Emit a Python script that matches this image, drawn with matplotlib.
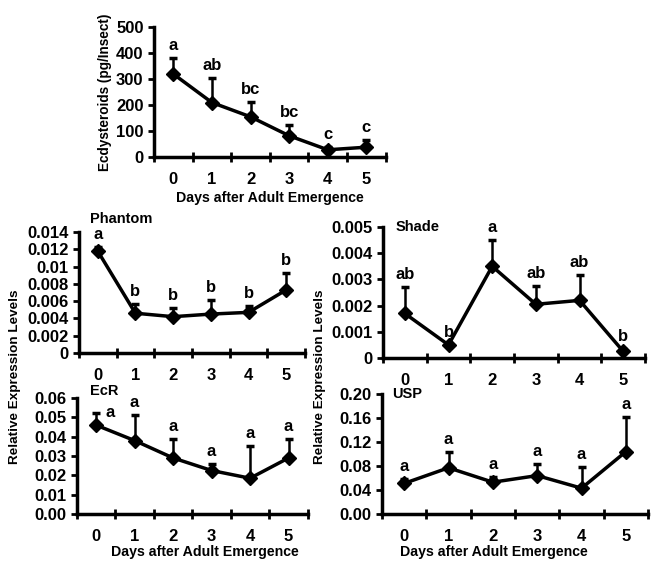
import matplotlib
matplotlib.use("Agg")
import matplotlib.pyplot as plt
from matplotlib.ticker import FormatStrFormatter, FuncFormatter

plt.rcParams["font.family"] = ["Liberation Sans", "DejaVu Sans"]
plt.rcParams["font.weight"] = "bold"

days = [0, 1, 2, 3, 4, 5]

ecdy_mean = [320, 210, 155, 82, 28, 38]
ecdy_err = [62, 95, 58, 40, 10, 28]
ecdy_letters = ["a", "ab", "bc", "bc", "c", "c"]

phantom_mean = [0.0118, 0.0046, 0.0042, 0.0045, 0.0047, 0.0073]
phantom_err = [0.0005, 0.0011, 0.0010, 0.0016, 0.0007, 0.0020]
phantom_letters = ["a", "b", "b", "b", "b", "b"]

shade_mean = [0.0017, 0.0005, 0.0035, 0.00205, 0.0022, 0.00025]
shade_err = [0.0010, 0.0, 0.0010, 0.0007, 0.00095, 0.0001]
shade_letters = ["ab", "b", "a", "ab", "ab", "b"]

ecr_mean = [0.046, 0.038, 0.029, 0.0225, 0.0185, 0.029]
ecr_err = [0.0065, 0.013, 0.010, 0.0033, 0.0168, 0.010]
ecr_letters = ["a", "a", "a", "a", "a", "a"]

usp_mean = [0.051, 0.077, 0.053, 0.064, 0.043, 0.104]
usp_err = [0.007, 0.027, 0.008, 0.020, 0.036, 0.057]
usp_letters = ["a", "a", "a", "a", "a", "a"]

XLAB = "Days after Adult Emergence"
YLAB = "Relative Expression Levels"


def general(v, pos):
    # Excel "General" style tick labels
    if abs(v) < 1e-12:
        return "0"
    return ("%.4f" % v).rstrip("0")


def draw_panel(ax, mean, err, letters, ymax, ystep, fmt, label_dx=None):
    ax.errorbar(days, mean, yerr=[[0] * len(err), err], color="black",
                marker="D", markersize=7, linewidth=2.5, elinewidth=1.8,
                capsize=3, capthick=2.5)
    ax.set_xlim(-0.5, 5.5)
    ax.set_ylim(0, ymax)
    ax.set_yticks([i * ystep for i in range(int(round(ymax / ystep)) + 1)])
    ax.yaxis.set_major_formatter(fmt)
    ax.set_xticks([d + 0.5 for d in [-1] + days])
    ax.set_xticklabels([])
    ax.set_xticks(days, minor=True)
    ax.set_xticklabels([str(d) for d in days], minor=True)
    ax.tick_params(axis="x", which="minor", length=0, pad=11, labelsize=12)
    ax.tick_params(axis="x", which="major", direction="inout", length=7, width=2)
    ax.tick_params(axis="y", direction="out", length=4, width=2, labelsize=12)
    for s in ["top", "right"]:
        ax.spines[s].set_visible(False)
    for s in ["left", "bottom"]:
        ax.spines[s].set_linewidth(2.5)
    for i, (m, e, t) in enumerate(zip(mean, err, letters)):
        dx, dy = 0, 9
        if label_dx and i in label_dx:
            dx, dy = label_dx[i]
        ax.annotate(t, (days[i], m + e), xytext=(dx, dy), textcoords="offset points",
                    ha="center", va="center", fontsize=12, fontweight="bold")


def xlabel(ax, x, y):
    ax.text(x, y, XLAB, transform=ax.transAxes, ha="center", va="center",
            fontsize=10.2, fontweight="bold")


def title(ax, x, y, s):
    ax.text(x, y, s, transform=ax.transAxes, ha="left", va="center",
            fontsize=10.5, fontweight="bold")


fig = plt.figure(figsize=(6.62, 5.67), dpi=100)

ax0 = fig.add_axes([0.2326, 0.723, 0.350, 0.229])
draw_panel(ax0, ecdy_mean, ecdy_err, ecdy_letters, 500, 100, FormatStrFormatter("%d"))
ax0.set_ylabel("Ecdysteroids (pg/Insect)", fontsize=9.8, fontweight="bold", labelpad=3)
xlabel(ax0, 0.5, -0.315)

ax1 = fig.add_axes([0.119, 0.3774, 0.342, 0.2136])
draw_panel(ax1, phantom_mean, phantom_err, phantom_letters, 0.014, 0.002, FuncFormatter(general))
title(ax1, 0.05, 1.107, "Phantom")

ax2 = fig.add_axes([0.5785, 0.3686, 0.396, 0.231])
draw_panel(ax2, shade_mean, shade_err, shade_letters, 0.005, 0.001, FuncFormatter(general))
title(ax2, 0.05, 1.0, "Shade")

ax3 = fig.add_axes([0.116, 0.0935, 0.349, 0.2045])
draw_panel(ax3, ecr_mean, ecr_err, ecr_letters, 0.06, 0.01, FormatStrFormatter("%.2f"),
           label_dx={0: (10, 0)})
title(ax3, 0.056, 1.06, "EcR")
xlabel(ax3, 0.554, -0.33)

ax4 = fig.add_axes([0.577, 0.0935, 0.402, 0.2116])
draw_panel(ax4, usp_mean, usp_err, usp_letters, 0.20, 0.04, FormatStrFormatter("%.2f"))
title(ax4, 0.04, 1.0, "USP")
xlabel(ax4, 0.42, -0.318)

fig.text(0.023, 0.335, YLAB, rotation=90, ha="center", va="center",
         fontsize=9.7, fontweight="bold")
fig.text(0.483, 0.335, YLAB, rotation=90, ha="center", va="center",
         fontsize=9.7, fontweight="bold")

fig.savefig("out.png", dpi=100)
